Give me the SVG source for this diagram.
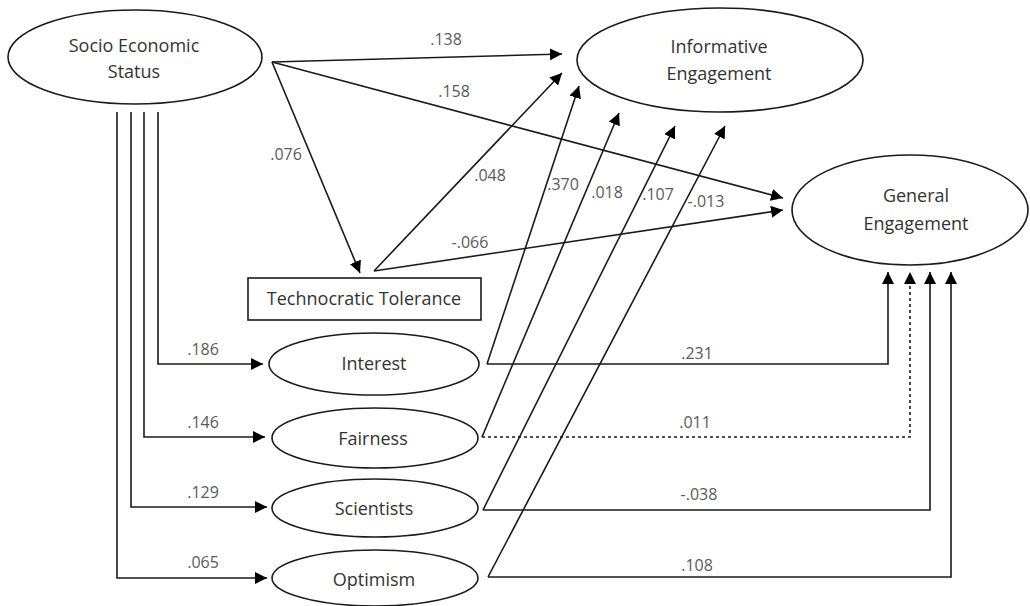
<svg xmlns="http://www.w3.org/2000/svg" width="1030" height="606" viewBox="0 0 1030 606">
  <style>
    .node { fill: #ffffff; stroke: #1a1a1a; stroke-width: 1.6; }
    .ntext { font-family: "Open Sans", "Liberation Sans", sans-serif; font-size: 18px; fill: #333333; text-anchor: middle; }
    .lbl { font-family: "Open Sans", "Liberation Sans", sans-serif; font-size: 16px; fill: #5a5a5a; text-anchor: middle; }
    .edge { fill: none; stroke: #1a1a1a; stroke-width: 1.6; marker-end: url(#arrow); }
    .dashed { stroke-dasharray: 3 3; }
  </style>
  <defs>
    <marker id="arrow" viewBox="0 0 12 12" refX="12" refY="6" markerWidth="12" markerHeight="12" markerUnits="userSpaceOnUse" orient="auto">
      <path d="M0,0 L12,6 L0,12 z" fill="#000000"/>
    </marker>
  </defs>
  <rect width="1030" height="606" fill="#ffffff"/>

  <!-- connectors -->
  <g id="connectors">
    <!-- socio economic status paths -->
    <path class="edge" d="M272,62 L562,54"/>
    <path class="edge" d="M272,62 L783,198"/>
    <path class="edge" d="M272,62 L360,273"/>
    <path class="edge" d="M158,112 V364 H263"/>
    <path class="edge" d="M144,112 V437 H265"/>
    <path class="edge" d="M131,112 V507 H267"/>
    <path class="edge" d="M117,112 V578 H267"/>
    <!-- technocratic tolerance paths -->
    <path class="edge" d="M374,271 L562,73"/>
    <path class="edge" d="M374,271 L783,210"/>
    <!-- attitudes to informative engagement -->
    <path class="edge" d="M487,364 L579,86"/>
    <path class="edge" d="M482,437 L619,113"/>
    <path class="edge" d="M483,510 L675,126"/>
    <path class="edge" d="M488,577 L725,126"/>
    <!-- attitudes to general engagement -->
    <path class="edge" d="M487,364 H888 V272"/>
    <path class="edge dashed" d="M482,437 H910 V272"/>
    <path class="edge" d="M483,510 H930 V272"/>
    <path class="edge" d="M488,577 H951 V272"/>

    <!-- path coefficients -->
    <text class="lbl" x="446" y="45">.138</text>
    <text class="lbl" x="454" y="97">.158</text>
    <text class="lbl" x="286" y="160">.076</text>
    <text class="lbl" x="490" y="181">.048</text>
    <text class="lbl" x="563" y="190">.370</text>
    <text class="lbl" x="607" y="198">.018</text>
    <text class="lbl" x="658" y="200">.107</text>
    <text class="lbl" x="706" y="207">-.013</text>
    <text class="lbl" x="470" y="248">-.066</text>
    <text class="lbl" x="203" y="355">.186</text>
    <text class="lbl" x="203" y="428">.146</text>
    <text class="lbl" x="203" y="498">.129</text>
    <text class="lbl" x="203" y="568">.065</text>
    <text class="lbl" x="697" y="359">.231</text>
    <text class="lbl" x="695" y="428">.011</text>
    <text class="lbl" x="699" y="500">-.038</text>
    <text class="lbl" x="697" y="571">.108</text>
  </g>

  <!-- nodes -->
  <g id="ses">
    <ellipse class="node" cx="135" cy="57" rx="127" ry="47"/>
    <text class="ntext" x="134" y="52">Socio Economic</text>
    <text class="ntext" x="134" y="78">Status</text>
  </g>
  <g id="informative">
    <ellipse class="node" cx="720" cy="60" rx="143" ry="52"/>
    <text class="ntext" x="719" y="53">Informative</text>
    <text class="ntext" x="719" y="80">Engagement</text>
  </g>
  <g id="general">
    <ellipse class="node" cx="910" cy="210" rx="118" ry="55"/>
    <text class="ntext" x="916" y="202">General</text>
    <text class="ntext" x="916" y="230">Engagement</text>
  </g>
  <g id="technocratic">
    <rect class="node" x="248" y="278" width="233" height="42"/>
    <text class="ntext" x="364" y="305">Technocratic Tolerance</text>
  </g>
  <g id="interest">
    <ellipse class="node" cx="374" cy="364" rx="105" ry="31"/>
    <text class="ntext" x="374" y="370">Interest</text>
  </g>
  <g id="fairness">
    <ellipse class="node" cx="375" cy="438" rx="103" ry="30"/>
    <text class="ntext" x="373" y="445">Fairness</text>
  </g>
  <g id="scientists">
    <ellipse class="node" cx="375" cy="508" rx="103" ry="29"/>
    <text class="ntext" x="374" y="515">Scientists</text>
  </g>
  <g id="optimism">
    <ellipse class="node" cx="375" cy="578" rx="103" ry="28"/>
    <text class="ntext" x="374" y="586">Optimism</text>
  </g>
</svg>
